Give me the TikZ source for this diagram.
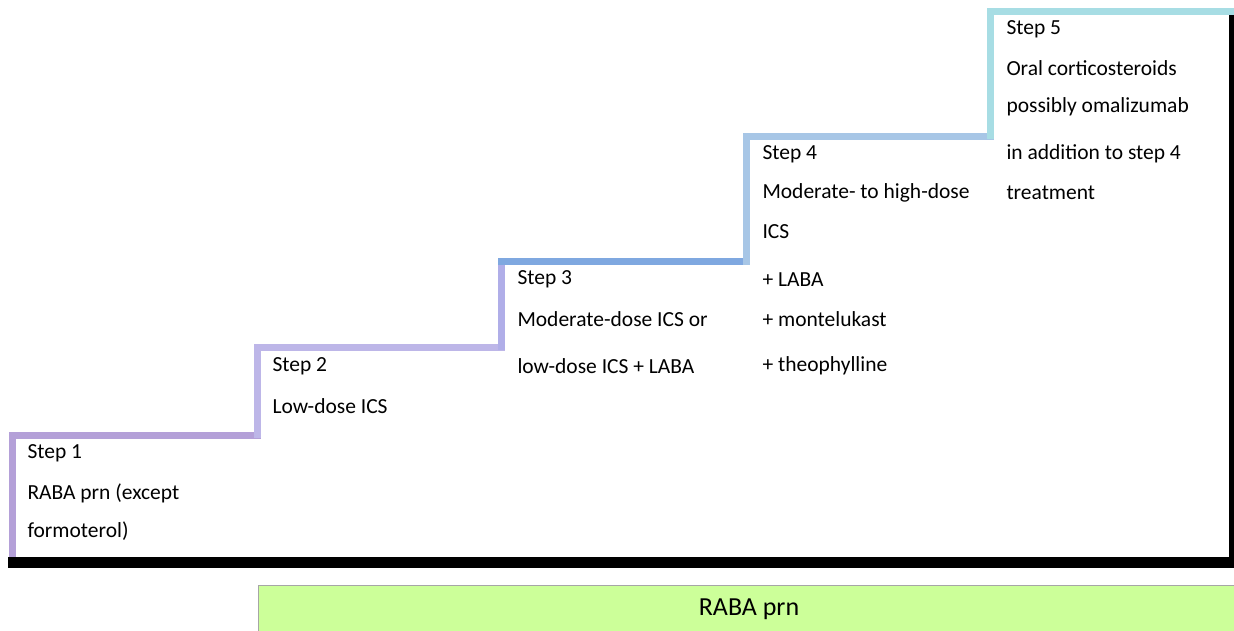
\documentclass[tikz,border=0pt]{standalone}
\usepackage{fontspec}
\setmainfont{Carlito}
\usetikzlibrary{positioning}
\definecolor{stepone}{HTML}{B4A0D8}
\definecolor{steptwo}{HTML}{BDB6E8}
\definecolor{stepthree}{HTML}{B0AEE8}
\definecolor{stepthreetop}{HTML}{7FA8E0}
\definecolor{stepfour}{HTML}{A7C6E6}
\definecolor{stepfive}{HTML}{A7DDE4}
\definecolor{rabagreen}{HTML}{CCFF99}
\tikzset{
  steptext/.style={anchor=west, inner sep=0pt, font=\fontsize{21.5}{25}\selectfont},
  rababox/.style={draw=gray!70, line width=1pt, fill=rabagreen, inner sep=0pt,
    font=\fontsize{26}{30}\selectfont}
}

\begin{document}
\begin{tikzpicture}[x=1pt, y=-1pt, line width=7pt]
\useasboundingbox (0,0) rectangle (1234,630);
% Stairs
    \draw[stepone] (12,557) -- (12,435) -- (261,435);
    \draw[steptwo] (257.5,438) -- (257.5,347) -- (505,347);
    \draw[stepthree] (501.5,350) -- (501.5,261.5);
    \draw[stepthreetop] (498,261.5) -- (750,261.5);
    \draw[stepfour] (746.5,265) -- (746.5,136) -- (994,136);
    \draw[stepfive] (990,139) -- (990,11.5) -- (1234,11.5);
% Floor and wall
    \draw[black, line width=11pt] (8,562.5) -- (1234,562.5);
    \draw[black, line width=5pt] (1231.5,15) -- (1231.5,568);
% Step 1
    \node[steptext] (s1a) at (24,453) {Step 1};
    \node[steptext] (s1b) at (24,493) {RABA prn (except};
    \node[steptext] (s1c) at (24,531) {formoterol)};
% Step 2
    \node[steptext] (s2a) at (269,366) {Step 2};
    \node[steptext] (s2b) at (269,406) {Low-dose ICS};
% Step 3
    \node[steptext] (s3a) at (514,279) {Step 3};
    \node[steptext] (s3b) at (514,319) {Moderate-dose ICS or};
    \node[steptext] (s3c) at (514,366) {low-dose ICS + LABA};
% Step 4
    \node[steptext] (s4a) at (759,154) {Step 4};
    \node[steptext] (s4b) at (759,193) {Moderate- to high-dose};
    \node[steptext] (s4c) at (759,232) {ICS};
    \node[steptext] (s4d) at (759,280) {+ LABA};
    \node[steptext] (s4e) at (759,319) {+ montelukast};
    \node[steptext] (s4f) at (759,366) {+ theophylline};
% Step 5
    \node[steptext] (s5a) at (1003,29) {Step 5};
    \node[steptext] (s5b) at (1003,68) {Oral corticosteroids};
    \node[steptext] (s5c) at (1003,107) {possibly omalizumab};
    \node[steptext] (s5d) at (1003,154) {in addition to step 4};
    \node[steptext] (s5e) at (1003,193) {treatment};
% Reliever
    \node[rababox, minimum width=982pt, minimum height=48pt] (raba) at (749,609) {\raisebox{4pt}{RABA prn}};
\end{tikzpicture}
\end{document}
